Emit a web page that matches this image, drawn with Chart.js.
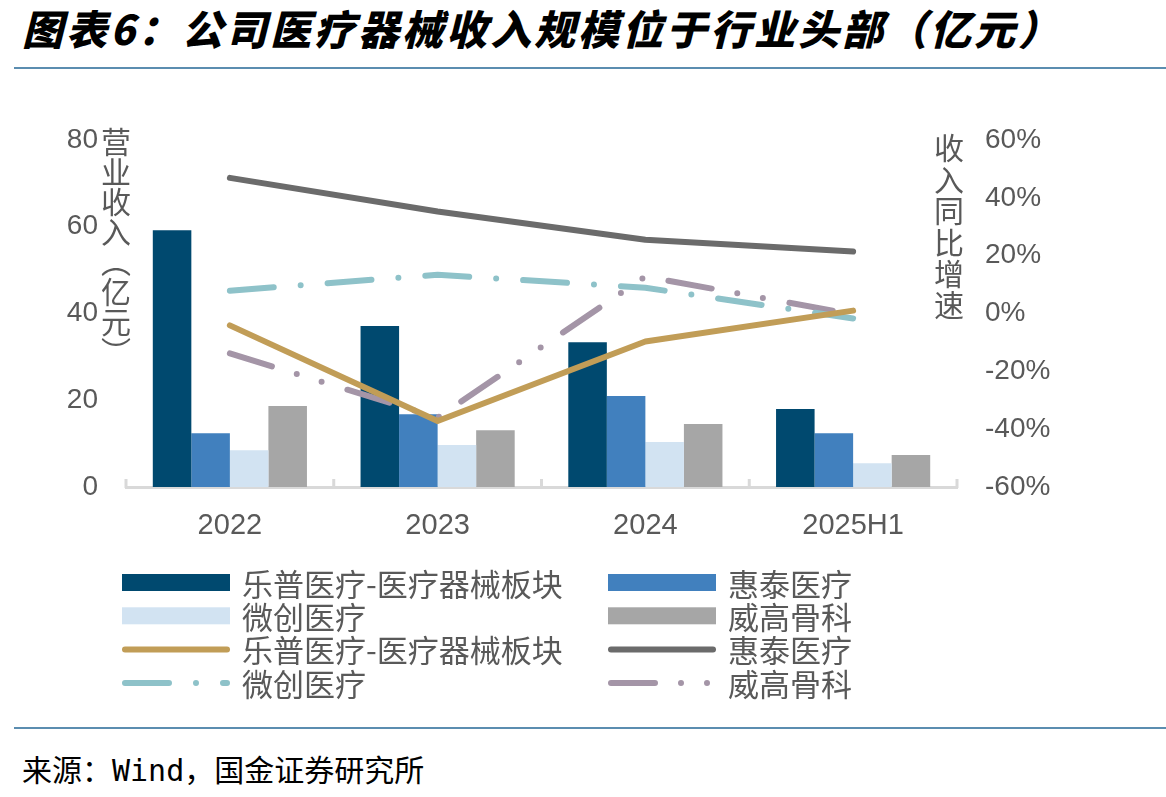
<!DOCTYPE html>
<html>
<head>
<meta charset="utf-8">
<script src="https://cdn.jsdelivr.net/npm/chart.js@4.4.1/dist/chart.umd.min.js"></script>
<style>
  html, body { margin: 0; padding: 0; background: #fff; }
  body { width: 1166px; height: 797px; position: relative; overflow: hidden; }
  #title {
    position: absolute; left: 22px; top: -3px;
    font-family: "Noto Sans CJK SC", sans-serif;
    font-size: 41px; font-weight: 900; font-style: italic;
    letter-spacing: 3px; color: #000; white-space: nowrap;
  }
  .rule { position: absolute; left: 14px; right: 0; height: 2px; background: #5b8db0; }
  #source {
    position: absolute; left: 22px; top: 746px;
    font-family: "DejaVu Sans Mono", "Noto Sans CJK SC", monospace;
    font-size: 30px; color: #000; white-space: nowrap;
  }
  #wrap { position: absolute; left: 0; top: 80px; width: 1166px; height: 640px; }
</style>
</head>
<body>
<div id="title">图表6：公司医疗器械收入规模位于行业头部（亿元）</div>
<div class="rule" style="top:67px"></div>
<div id="wrap"><canvas id="chart"></canvas></div>
<div class="rule" style="top:727px"></div>
<div id="source">来源：Wind，国金证券研究所</div>
<script>
// categories
var categories = ["2022", "2023", "2024", "2025H1"];

// 营业收入（亿元）
var lepuRevenue = [59.2, 37.1, 33.4, 18.0];
var huitaiRevenue = [12.4, 16.8, 21.0, 12.4];
var microportRevenue = [8.5, 9.7, 10.4, 5.5];
var weigaoRevenue = [18.7, 13.1, 14.5, 7.4];

// 收入同比增速（%）
var lepuGrowth = [-4.1, -37.2, -9.7, 1.0];
var huitaiGrowth = [46.9, 35.3, 25.5, 21.4];
var microportGrowth = [7.9, 13.4, 8.9, -1.7];
var weigaoGrowth = [-13.8, -36.0, 12.8, -0.3];

// axis ticks
var revenueTicks = [0, 20, 40, 60, 80];
var growthTicks = [-60, -40, -20, 0, 20, 40, 60];

var leftTitle = "营业收入︵亿元︶";
var rightTitle = "收入同比增速";

var TXT = "#595959";
var CJK = "'Noto Sans CJK SC', 'Liberation Sans', sans-serif";

Chart.defaults.font.family = "'Liberation Sans', 'Noto Sans CJK SC', sans-serif";
Chart.defaults.color = TXT;

function barSet(label, data, color) {
  return { type: "bar", label: label, data: data, backgroundColor: color,
    yAxisID: "y", order: 2, categoryPercentage: 0.742, barPercentage: 1.0 };
}
function lineSet(label, data, color, dash) {
  return { type: "line", label: label, data: data, borderColor: color, backgroundColor: color,
    borderWidth: 6, borderDash: dash, borderCapStyle: "round", borderJoinStyle: "round",
    pointRadius: 0, tension: 0, yAxisID: "y1", order: 1, fill: false };
}

// legend + axis titles + inward category ticks
var extras = {
  id: "extras",
  afterDraw: function (chart, args, opts) {
    var ctx = chart.ctx;
    var x = chart.scales.x;
    ctx.save();

    // small inward ticks between categories
    ctx.strokeStyle = "#d9d9d9";
    ctx.lineWidth = 3;
    var n = chart.data.labels.length;
    for (var i = 0; i <= n; i++) {
      var px = x.left + i * (x.width / n);
      ctx.beginPath();
      ctx.moveTo(px, x.top - 8);
      ctx.lineTo(px, x.top + 1);
      ctx.stroke();
    }

    // axis titles, one character per line
    ctx.fillStyle = TXT;
    ctx.textAlign = "center";
    ctx.textBaseline = "middle";
    ctx.font = "30px " + CJK;
    var ca = chart.chartArea;
    Array.from(leftTitle).forEach(function (ch, k) {
      ctx.fillText(ch, ca.left - 10, ca.top + 2 + k * 30);
    });
    Array.from(rightTitle).forEach(function (ch, k) {
      ctx.fillText(ch, ca.right - 8, ca.top + 8 + k * 31.4);
    });

    // legend, two columns
    ctx.textAlign = "left";
    ctx.font = "31px " + CJK;
    chart.data.datasets.forEach(function (ds, k) {
      var col = k % 2, row = Math.floor(k / 2);
      var sx = opts.cols[col], sy = opts.top + row * opts.rowStep;
      if (ds.type === "bar") {
        ctx.fillStyle = ds.backgroundColor;
        ctx.fillRect(sx, sy - 9, opts.swatch, 17);
      } else {
        ctx.strokeStyle = ds.borderColor;
        ctx.lineWidth = 6;
        ctx.lineCap = "round";
        ctx.setLineDash(ds.borderDash || []);
        ctx.beginPath();
        ctx.moveTo(sx + 3, sy);
        ctx.lineTo(sx + opts.swatch - 3, sy);
        ctx.stroke();
        ctx.setLineDash([]);
      }
      ctx.fillStyle = TXT;
      ctx.fillText(ds.label, sx + opts.swatch + 12, sy + 1);
    });
    ctx.restore();
  }
};

new Chart(document.getElementById("chart"), {
  data: {
    labels: categories,
    datasets: [
      barSet("乐普医疗-医疗器械板块", lepuRevenue, "#00496f"),
      barSet("惠泰医疗", huitaiRevenue, "#4180be"),
      barSet("微创医疗", microportRevenue, "#d2e3f2"),
      barSet("威高骨科", weigaoRevenue, "#a6a6a6"),
      lineSet("乐普医疗-医疗器械板块", lepuGrowth, "#c19d57", []),
      lineSet("惠泰医疗", huitaiGrowth, "#6b6b6b", []),
      lineSet("微创医疗", microportGrowth, "#8ec2c9", [44, 27, 0, 27]),
      lineSet("威高骨科", weigaoGrowth, "#a495a7", [44, 26, 0, 26, 0, 27])
    ]
  },
  options: {
    responsive: true,
    maintainAspectRatio: false,
    animation: false,
    layout: { padding: { top: 60, left: 0, right: 0, bottom: 173 } },
    plugins: {
      legend: { display: false },
      tooltip: { enabled: false },
      extras: { cols: [122, 608], top: 503, rowStep: 33.3, swatch: 108 }
    },
    scales: {
      x: {
        offset: true,
        grid: { display: false },
        border: { display: true, color: "#d9d9d9", width: 3 },
        ticks: { font: { size: 29 }, color: TXT, padding: 14 },
        afterFit: function (s) { s.height = 60; }
      },
      y: {
        position: "left",
        min: 0, max: 80,
        afterBuildTicks: function (s) { s.ticks = revenueTicks.map(function (v) { return { value: v }; }); },
        grid: { display: false, drawTicks: false },
        border: { display: false },
        ticks: { font: { size: 28 }, color: TXT, padding: 28 },
        afterFit: function (s) { s.width = 126; }
      },
      y1: {
        position: "right",
        min: -60, max: 60,
        afterBuildTicks: function (s) { s.ticks = growthTicks.map(function (v) { return { value: v }; }); },
        grid: { display: false, drawTicks: false },
        border: { display: false },
        ticks: { font: { size: 28 }, color: TXT, padding: 28,
          callback: function (v) { return v + "%"; } },
        afterFit: function (s) { s.width = 209; }
      }
    }
  },
  plugins: [extras]
});
</script>
</body>
</html>
